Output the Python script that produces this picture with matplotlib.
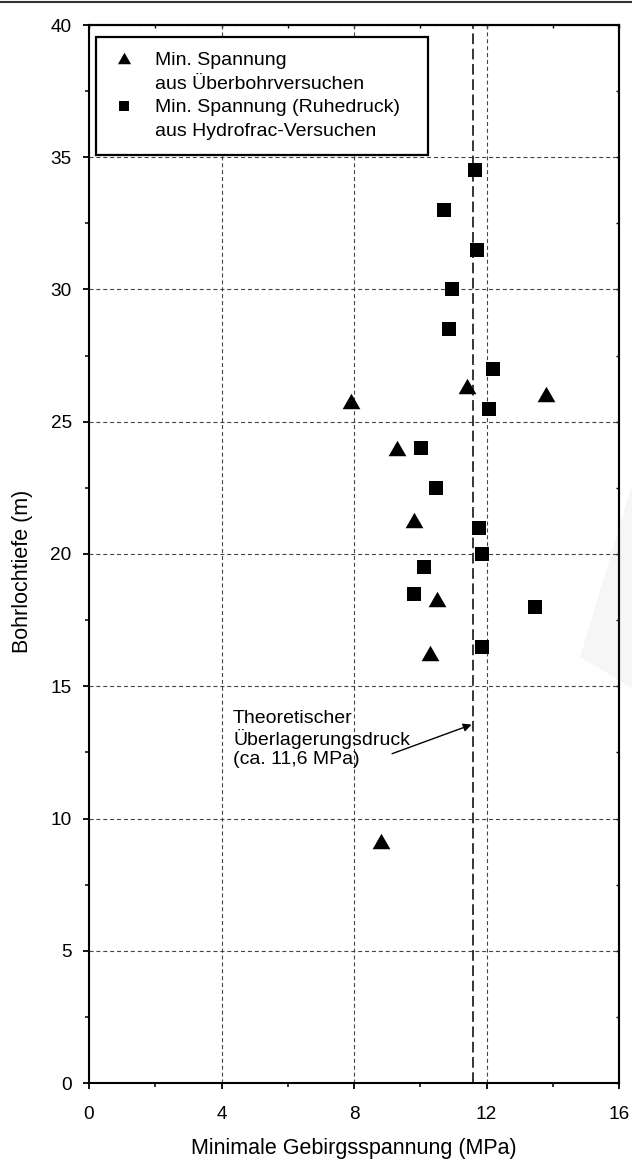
import matplotlib
matplotlib.use("Agg")
import matplotlib.pyplot as plt
from matplotlib.lines import Line2D
from matplotlib.patches import Polygon

plt.rcParams['font.family'] = ['Liberation Sans', 'DejaVu Sans']

# ---- data ----
tri_x = [7.9, 11.4, 13.8, 9.3, 9.8, 10.5, 10.3, 8.8]
tri_y = [25.8, 26.35, 26.05, 24.0, 21.3, 18.3, 16.25, 9.15]

sq_x = [11.64, 10.73, 11.72, 10.97, 10.87, 12.21, 12.07, 10.01, 10.48,
        11.78, 11.86, 10.12, 9.82, 13.47, 11.87]
sq_y = [34.5, 33.0, 31.5, 30.0, 28.5, 27.0, 25.5, 24.0, 22.5,
        21.0, 20.0, 19.5, 18.5, 18.0, 16.5]

overburden = 11.6

x_ticks = [0, 4, 8, 12, 16]
x_minor = [2, 6, 10, 14]
y_ticks = [0, 5, 10, 15, 20, 25, 30, 35, 40]
y_minor = [2.5, 7.5, 12.5, 17.5, 22.5, 27.5, 32.5, 37.5]

labels = ["Min. Spannung", "aus Überbohrversuchen",
          "Min. Spannung (Ruhedruck)", "aus Hydrofrac-Versuchen"]
xlabel = "Minimale Gebirgsspannung (MPa)"
ylabel = "Bohrlochtiefe (m)"
annot = "Theoretischer\nÜberlagerungsdruck\n(ca. 11,6 MPa)"

# ---- figure ----
W, H = 632, 1164
fig = plt.figure(figsize=(W / 100, H / 100), dpi=100)
ax = fig.add_axes([89 / W, 81 / H, 530 / W, 1058 / H])

tri_marker = [(-1, -0.87), (1, -0.87), (0, 0.87)]

ax.set_xlim(0, 16)
ax.set_ylim(0, 40)
ax.set_xticks(x_ticks)
ax.set_xticks(x_minor, minor=True)
ax.set_yticks(y_ticks)
ax.set_yticks(y_minor, minor=True)

ax.grid(True, which='major', color='#444444', lw=0.8, ls=(0, (3.6, 2.6)))
ax.set_axisbelow(True)

ax.axvline(overburden, color='k', lw=1.1, ls=(0, (7, 3)), zorder=2)

ax.plot(sq_x, sq_y, ls='none', marker='s', ms=9.4, mew=0, color='k', zorder=3)
ax.plot(tri_x, tri_y, ls='none', marker=tri_marker, ms=12.8, mew=0, color='k', zorder=3)

for s in ax.spines.values():
    s.set_linewidth(1.5)

ax.tick_params(which='major', direction='out', length=4.5, width=1.3,
               labelsize=13.7, top=False, right=False)
ax.tick_params(which='minor', direction='out', length=3, width=1.1,
               top=False, right=False)
ax.tick_params(axis='x', which='major', pad=12)
ax.tick_params(axis='y', which='major', pad=8)

secx = ax.secondary_xaxis('top')
secx.set_xticks(x_ticks)
secx.set_xticks(x_minor, minor=True)
secx.tick_params(which='both', direction='in', length=2.5, width=1.0, labeltop=False)
secx.spines['top'].set_linewidth(1.5)
secy = ax.secondary_yaxis('right')
secy.set_yticks(y_ticks)
secy.set_yticks(y_minor, minor=True)
secy.tick_params(which='both', direction='in', length=2.5, width=1.0, labelright=False)
secy.spines['right'].set_linewidth(1.5)

ax.set_xlabel(xlabel, fontsize=15.5)
ax.xaxis.set_label_coords(0.5, -0.052)
ax.set_ylabel(ylabel, fontsize=15.5)
ax.yaxis.set_label_coords(-0.105, 0.484)

# legend
h1 = Line2D([], [], ls='none', marker=tri_marker, ms=9.5, mew=0, color='k')
h2 = Line2D([], [], ls='none', marker='s', ms=7.2, mew=0, color='k')
blank = Line2D([], [], ls='none')
leg = ax.legend([h1, blank, h2, blank], labels, loc='upper left',
                bbox_to_anchor=(0.0132, 0.88, 0.6265, 0.1087), mode='expand',
                borderaxespad=0, fontsize=14, frameon=True, fancybox=False,
                framealpha=1, edgecolor='k', borderpad=0.75, labelspacing=0.31,
                handlelength=1.35, handletextpad=0.94)
leg.get_frame().set_linewidth(1.6)

# annotation
ax.annotate("", xy=(11.55, 13.55), xytext=(9.15, 12.45),
            arrowprops=dict(arrowstyle='-|>', color='k', lw=1.0, mutation_scale=12,
                            shrinkA=0, shrinkB=0))
ax.text(4.35, 13.0, annot, ha='left', va='center', fontsize=14, linespacing=1.13)

# top border line of the page
fig.add_artist(Line2D([0, 1], [1 - 2 / H, 1 - 2 / H], transform=fig.transFigure,
                      color='#333333', lw=1.5))
# faint watermark wedge
fig.add_artist(Polygon([(580 / W, 1 - 657 / H), (1.0, 1 - 485 / H), (1.0, 1 - 688 / H)],
                       closed=True, transform=fig.transFigure, facecolor='#888888',
                       alpha=0.07, edgecolor='none', zorder=5))

fig.savefig("out.png", dpi=100)
